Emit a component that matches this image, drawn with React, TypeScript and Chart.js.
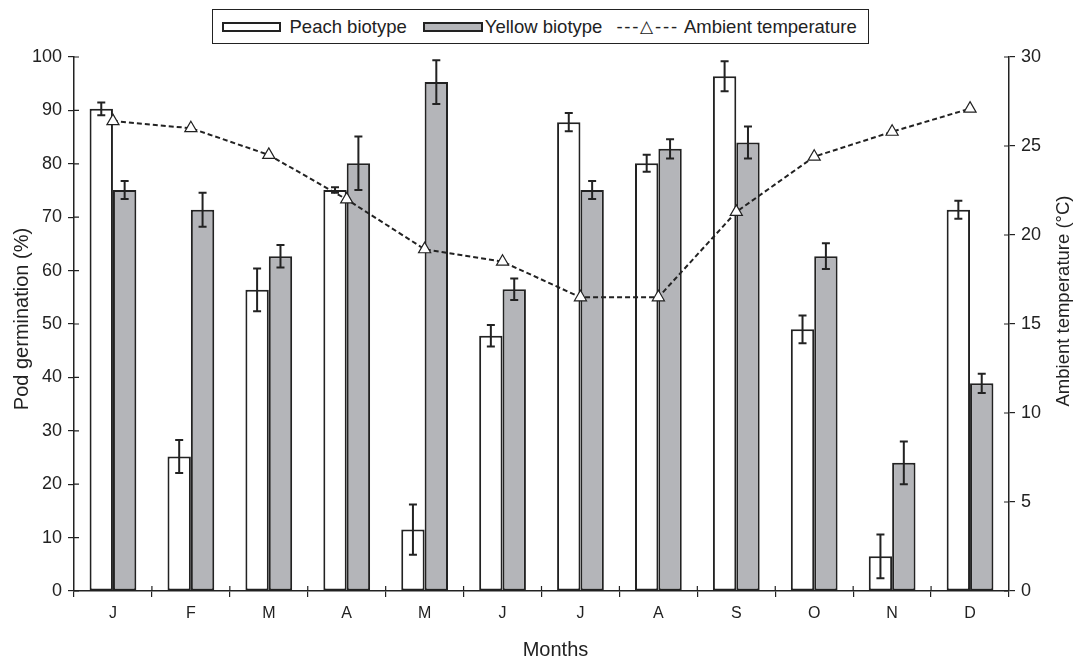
import React, { useEffect, useRef } from "react";
import { Chart, registerables } from "chart.js";
Chart.register(...registerables);

const months = ["J", "F", "M", "A", "M", "J", "J", "A", "S", "O", "N", "D"];
const peach = [90.3, 25.2, 56.4, 75.1, 11.5, 47.8, 87.8, 80.1, 96.4, 49.0, 6.5, 71.4];
const peachErr = [1.2, 3.1, 4.0, 0.5, 4.7, 2.0, 1.7, 1.6, 2.8, 2.6, 4.1, 1.7];
const yellow = [75.1, 71.4, 62.7, 80.1, 95.3, 56.5, 75.1, 82.8, 84.0, 62.7, 24.0, 38.9];
const yellowErr = [1.7, 3.2, 2.1, 5.0, 4.1, 2.0, 1.7, 1.8, 3.0, 2.4, 4.0, 1.8];
const temperature = [26.4, 26.0, 24.5, 22.0, 19.2, 18.5, 16.5, 16.5, 21.3, 24.4, 25.8, 27.1];
const xTitle = "Months";
const yTitle = "Pod germination (%)";
const y1Title = "Ambient temperature (°C)";

const FONT = "'Liberation Sans', Arial, Helvetica, sans-serif";
const INK = "#222";
const GREY = "#b4b5b9";

const errorBarPlugin = {
  id: "errorBars",
  afterDatasetsDraw(chart: any) {
    const ctx = chart.ctx;
    const y = chart.scales.y;
    const sets = [
      { idx: 1, vals: peach, errs: peachErr },
      { idx: 2, vals: yellow, errs: yellowErr },
    ];
    ctx.save();
    ctx.strokeStyle = INK;
    ctx.lineWidth = 2;
    sets.forEach(({ idx, vals, errs }) => {
      const meta = chart.getDatasetMeta(idx);
      meta.data.forEach((el: any, i: number) => {
        const x = el.x;
        const top = y.getPixelForValue(vals[i] + errs[i]);
        const bot = y.getPixelForValue(vals[i] - errs[i]);
        ctx.beginPath();
        ctx.moveTo(x, top);
        ctx.lineTo(x, bot);
        ctx.moveTo(x - 4, top);
        ctx.lineTo(x + 4, top);
        ctx.moveTo(x - 4, bot);
        ctx.lineTo(x + 4, bot);
        ctx.stroke();
      });
    });
    ctx.restore();
  },
};

const axisDecorPlugin = {
  id: "axisDecor",
  afterDraw(chart: any) {
    const ctx = chart.ctx;
    const { x, y, y1 } = chart.scales;
    const area = chart.chartArea;
    ctx.save();
    ctx.strokeStyle = INK;
    ctx.lineWidth = 1.2;
    ctx.beginPath();
    y.ticks.forEach((t: any) => {
      const py = y.getPixelForValue(t.value);
      ctx.moveTo(area.left, py);
      ctx.lineTo(area.left + 5, py);
    });
    y1.ticks.forEach((t: any) => {
      const py = y1.getPixelForValue(t.value);
      ctx.moveTo(area.right - 5, py);
      ctx.lineTo(area.right, py);
    });
    for (let i = 1; i < months.length; i++) {
      const px = (x.getPixelForValue(i - 1) + x.getPixelForValue(i)) / 2;
      ctx.moveTo(px, area.bottom - 5);
      ctx.lineTo(px, area.bottom);
    }
    ctx.stroke();
    ctx.fillStyle = INK;
    ctx.textAlign = "center";
    ctx.textBaseline = "middle";
    ctx.font = `20px ${FONT}`;
    ctx.fillText(xTitle, (area.left + area.right) / 2 + 14, 650);
    ctx.save();
    ctx.translate(22, (area.top + area.bottom) / 2 - 5);
    ctx.rotate(-Math.PI / 2);
    ctx.font = `20px ${FONT}`;
    ctx.fillText(yTitle, 0, 0);
    ctx.restore();
    ctx.save();
    ctx.translate(1064, (area.top + area.bottom) / 2 - 23);
    ctx.rotate(-Math.PI / 2);
    ctx.font = `18.5px ${FONT}`;
    ctx.fillText(y1Title, 0, 0);
    ctx.restore();
    ctx.restore();
  },
};

function Legend() {
  const item: React.CSSProperties = { display: "flex", alignItems: "center", whiteSpace: "nowrap" };
  return (
    <div
      style={{
        position: "absolute",
        left: 212,
        top: 9,
        width: 657,
        height: 35,
        border: `1.5px solid ${INK}`,
        display: "flex",
        alignItems: "center",
        justifyContent: "flex-start",
        paddingLeft: 8.5,
        fontFamily: FONT,
        fontSize: 18.5,
        color: INK,
        boxSizing: "border-box",
        background: "#fff",
      }}
    >
      <div style={item}>
        <div style={{ width: 59, height: 10, border: `2px solid ${INK}`, background: "#fff", boxSizing: "border-box", marginRight: 9 }} />
        <span>Peach biotype</span>
      </div>
      <div style={{ ...item, marginLeft: 16 }}>
        <div style={{ width: 60, height: 10, border: `2px solid ${INK}`, background: GREY, boxSizing: "border-box", marginRight: 2 }} />
        <span>Yellow biotype</span>
      </div>
      <div style={{ ...item, marginLeft: 14 }}>
        <span style={{ letterSpacing: 1.8, marginRight: 5, display: "flex", alignItems: "center" }}>
          ---<span style={{ fontSize: 17, lineHeight: 1 }}>△</span>---
        </span>
        <span>Ambient temperature</span>
      </div>
    </div>
  );
}

export default function App() {
  const ref = useRef<HTMLCanvasElement>(null);
  useEffect(() => {
    if (!ref.current) return;
    const chart = new Chart(ref.current, {
      data: {
        labels: months,
        datasets: [
          {
            type: "line",
            label: "Ambient temperature",
            data: temperature,
            yAxisID: "y1",
            borderColor: INK,
            borderWidth: 2,
            borderDash: [5, 3],
            pointStyle: "triangle",
            pointRadius: 7,
            pointBackgroundColor: "#fff",
            pointBorderColor: INK,
            pointBorderWidth: 1.2,
            tension: 0,
            order: 0,
          } as any,
          {
            type: "bar",
            label: "Peach biotype",
            data: peach,
            yAxisID: "y",
            backgroundColor: "#fff",
            borderColor: INK,
            borderWidth: 2,
            borderSkipped: false,
            categoryPercentage: 0.6,
            barPercentage: 1,
            order: 1,
          } as any,
          {
            type: "bar",
            label: "Yellow biotype",
            data: yellow,
            yAxisID: "y",
            backgroundColor: GREY,
            borderColor: INK,
            borderWidth: 2,
            borderSkipped: false,
            categoryPercentage: 0.6,
            barPercentage: 1,
            order: 1,
          } as any,
        ],
      },
      options: {
        animation: false,
        responsive: false,
        maintainAspectRatio: false,
        layout: { padding: { top: 57, left: 0, right: 0, bottom: 0 } },
        plugins: { legend: { display: false }, tooltip: { enabled: false } },
        scales: {
          x: {
            offset: true,
            grid: { offset: true, drawOnChartArea: false, color: INK, tickLength: 6, lineWidth: 1.2 },
            border: { color: INK, width: 1.5 },
            ticks: { color: INK, font: { family: FONT, size: 16 }, padding: 7, maxRotation: 0 },
            title: { display: false },
            afterFit: (s: any) => { s.height = 71; },
          },
          y: {
            position: "left",
            min: 0,
            max: 100,
            ticks: { stepSize: 10, color: INK, font: { family: FONT, size: 18 }, padding: 6 },
            grid: { drawOnChartArea: false, color: INK, tickLength: 6, lineWidth: 1.2 },
            border: { color: INK, width: 1.5 },
            title: { display: false },
            afterFit: (s: any) => { s.width = 74; },
          },
          y1: {
            position: "right",
            min: 0,
            max: 30,
            ticks: { stepSize: 5, color: INK, font: { family: FONT, size: 18 }, padding: 6 },
            grid: { drawOnChartArea: false, color: INK, tickLength: 6, lineWidth: 1.2 },
            border: { color: INK, width: 1.5 },
            title: { display: false },
            afterFit: (s: any) => { s.width = 70; },
          },
        },
      },
      plugins: [errorBarPlugin, axisDecorPlugin],
    } as any);
    return () => chart.destroy();
  }, []);
  return (
    <div style={{ position: "fixed", left: 0, top: 0, width: 1079, height: 662, background: "#fff" }}>
      <canvas ref={ref} width={1079} height={662} style={{ width: 1079, height: 662, display: "block" }} />
      <Legend />
    </div>
  );
}
